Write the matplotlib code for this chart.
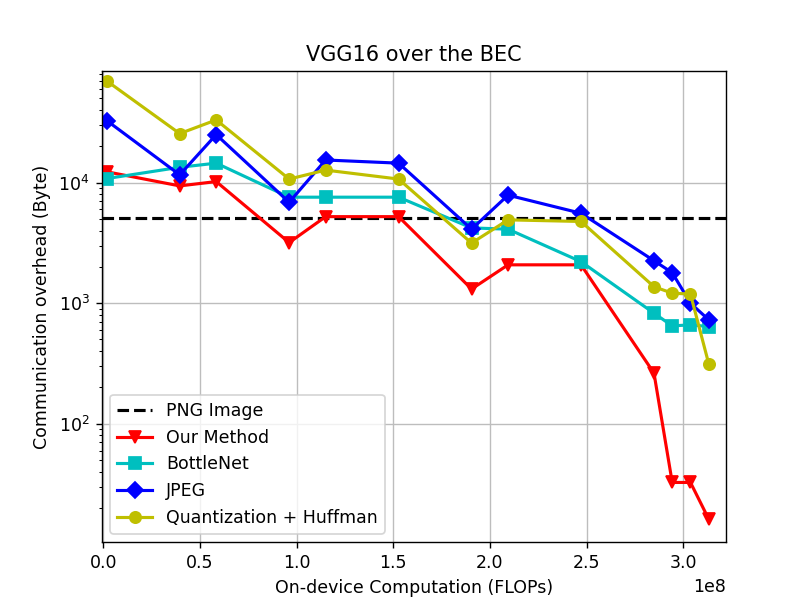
import numpy as np
import matplotlib
matplotlib.use("Agg")
import matplotlib.pyplot as plt

# cumulative FLOPs after each conv layer of VGG16
flops = [1.769e6, 39.518e6, 58.393e6, 96.141e6, 115.016e6, 152.765e6, 190.513e6,
         209.388e6, 247.136e6, 284.885e6, 294.322e6, 303.759e6, 313.196e6]

png_size = 5100

ours = [12300, 9390, 10200, 3180, 5220, 5220, 1310, 2080, 2080, 263, 32.6, 32.6, 16.2]
bottlenet = [10800, 13400, 14500, 7570, 7570, 7570, 4210, 4110, 2210, 826, 648, 661, 640]
jpeg = [32700, 11600, 25000, 6870, 15400, 14500, 4110, 7870, 5570, 2250, 1790, 1000, 728]
quant_huff = [69700, 25500, 33100, 10700, 12700, 10700, 3150, 4910, 4760, 1370, 1210, 1190, 315]

fig = plt.figure(figsize=(806 / 125, 603 / 125), dpi=125)
ax = fig.add_axes([0.1262, 0.1007, 0.9004 - 0.1262, 0.8823 - 0.1007])

ax.axhline(png_size, color='k', linestyle='--', lw=1.8, label='PNG Image')
ax.plot(flops, ours, 'r-v', lw=1.8, markersize=6.5, label='Our Method')
ax.plot(flops, bottlenet, 'c-s', lw=1.8, markersize=6.5, label='BottleNet')
ax.plot(flops, jpeg, 'b-D', lw=1.8, markersize=6.5, label='JPEG')
ax.plot(flops, quant_huff, 'y-o', lw=1.8, markersize=6.5, label='Quantization + Huffman')

ax.set_yscale('log')
ax.set_xlim(-0.0083e8, 3.22e8)
ax.set_ylim(10.4, 84300)
ax.grid(True, which='major', color='#bdbdbd')
ax.set_axisbelow(True)

ax.set_title('VGG16 over the BEC', fontsize=12)
ax.set_xlabel('On-device Computation (FLOPs)')
ax.set_ylabel('Communication overhead (Byte)')
ax.legend(loc='lower left')

fig.savefig('out.png', dpi=125)
